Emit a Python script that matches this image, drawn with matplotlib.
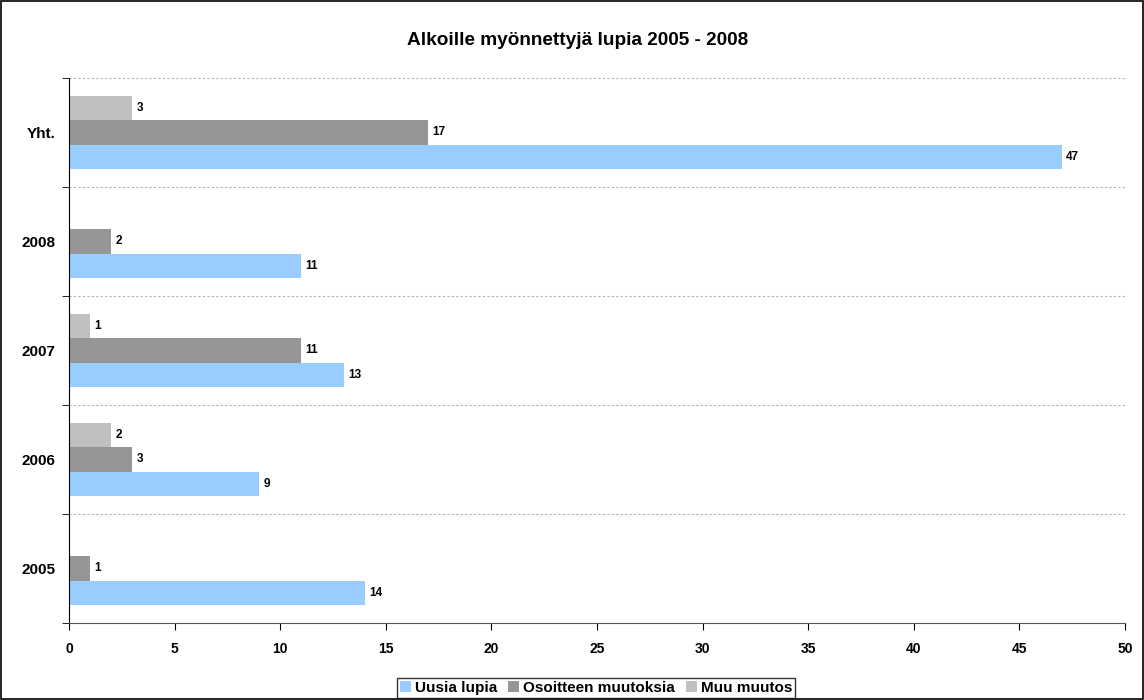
import matplotlib.pyplot as plt
import numpy as np
from matplotlib.patches import Rectangle

plt.rcParams['font.family'] = ['Liberation Sans', 'DejaVu Sans']
plt.rcParams['font.weight'] = 'bold'

# data
categories = ['2005', '2006', '2007', '2008', 'Yht.']
series = ['Uusia lupia', 'Osoitteen muutoksia', 'Muu muutos']
uusia = [14, 9, 13, 11, 47]
osoite = [1, 3, 11, 2, 17]
muu = [0, 2, 1, 0, 3]
colors = ['#99CCFF', '#969696', '#C0C0C0']

fig = plt.figure(figsize=(11.44, 7), dpi=100)
ax = fig.add_axes([0.0603, 0.11, 0.9231, 0.7786])

y = np.arange(len(categories))
h = 0.225
for i, (vals, name, c) in enumerate(zip([uusia, osoite, muu], series, colors)):
    pos = y + (i - 1) * h
    ax.barh(pos, vals, h, color=c, label=name)
    for p, v in zip(pos, vals):
        if v > 0:
            ax.text(v + 0.2, p, str(v), va='center', ha='left', fontsize=8.5, fontweight='bold')

ax.set_xlim(0, 50)
ax.set_ylim(-0.5, len(categories) - 0.5)
ax.set_xticks(np.arange(0, 51, 5))
ax.set_yticks(y)
ax.set_yticklabels(categories)
ax.set_yticks(np.arange(-0.5, len(categories)), minor=True)
ax.tick_params(axis='y', which='major', length=0, pad=9.5, labelsize=11)
ax.tick_params(axis='y', which='minor', length=5, direction='out')
ax.tick_params(axis='x', length=5, labelsize=10, pad=9)
ax.grid(axis='y', which='minor', linestyle=(0, (2, 2)), color='#B0B0B0', linewidth=0.8)
ax.spines['top'].set_visible(False)
ax.spines['right'].set_visible(False)
ax.spines['left'].set_color('black')
ax.spines['bottom'].set_color('#555555')

ax.set_title('Alkoille myönnettyjä lupia 2005 - 2008', fontsize=13.7, fontweight='bold',
             pad=24, x=0.482)

leg = fig.legend(loc='lower center', bbox_to_anchor=(0.521, 0.0), ncol=3, fontsize=11,
                 frameon=True, fancybox=False, edgecolor='black', handlelength=0.75,
                 handleheight=0.75, handletextpad=0.25, columnspacing=0.7, borderpad=0.2,
                 borderaxespad=0.15)
leg.get_frame().set_linewidth(1)

fig.patches.append(Rectangle((0.001, 0.001), 0.998, 0.997, transform=fig.transFigure,
                             fill=False, edgecolor='black', linewidth=1.2))

fig.savefig('out.png', dpi=100)
